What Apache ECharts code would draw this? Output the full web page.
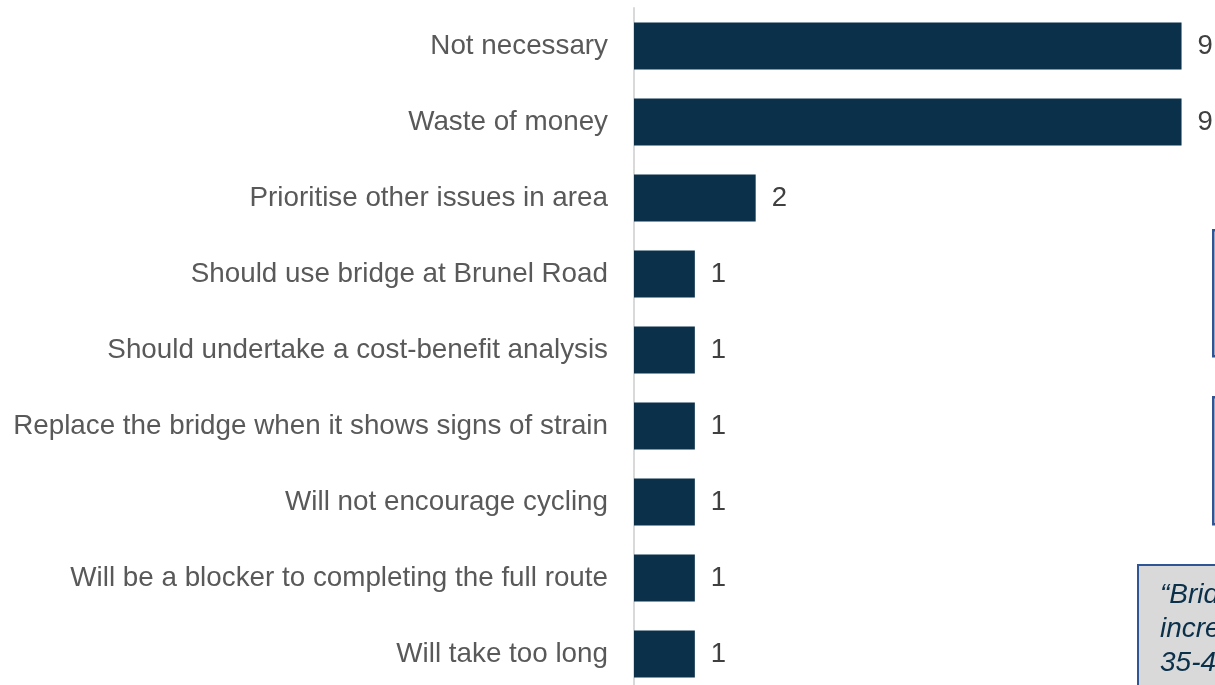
<!DOCTYPE html>
<html>
<head>
<meta charset="utf-8">
<script src="https://cdn.jsdelivr.net/npm/echarts@6/dist/echarts.min.js"></script>
<style>
  html, body { margin: 0; padding: 0; background: #ffffff; overflow: hidden; }
  /* the plot runs slightly past the bottom of the window */
  #chart { width: 1215px; height: 692px; }
</style>
</head>
<body>
<div id="chart"></div>
<script>
// Reasons given against the bridge (number of mentions)
const categories = [
  'Not necessary',
  'Waste of money',
  'Prioritise other issues in area',
  'Should use bridge at Brunel Road',
  'Should undertake a cost-benefit analysis',
  'Replace the bridge when it shows signs of strain',
  'Will not encourage cycling',
  'Will be a blocker to completing the full route',
  'Will take too long'
];
const mentions = [9, 9, 2, 1, 1, 1, 1, 1, 1];

// Quote box text (runs off the right edge of the page)
const quoteLines = ['\u201CBridge', 'increase', '35-40'];

const chart = echarts.init(document.getElementById('chart'), null, { renderer: 'canvas' });

const FONT = 'Liberation Sans, Arial, sans-serif';
const NAVY = '#0b304a';
const BORDER_BLUE = '#2f5597';

chart.setOption({
  animation: false,
  backgroundColor: '#ffffff',
  grid: { left: 634, top: 8, right: 0, bottom: 0, containLabel: false },
  xAxis: {
    type: 'value',
    min: 0,
    max: 9.55,
    show: false
  },
  yAxis: {
    type: 'category',
    data: categories,
    inverse: true,
    axisLine: { show: true, lineStyle: { color: '#d9d9d9', width: 2 } },
    axisTick: { show: false },
    axisLabel: {
      margin: 26,
      color: '#595959',
      fontSize: 27.8,
      fontFamily: FONT
    }
  },
  series: [{
    type: 'bar',
    data: mentions,
    barCategoryGap: '38%',
    itemStyle: { color: NAVY },
    label: {
      show: true,
      position: 'right',
      distance: 16,
      color: '#404040',
      fontSize: 27.5,
      fontFamily: FONT
    }
  }],
  graphic: [
    // two text panels whose left border shows at the page edge
    { type: 'rect', left: 1212, top: 229, shape: { width: 20, height: 126 },
      style: { fill: '#ffffff', stroke: BORDER_BLUE, lineWidth: 2.5 } },
    { type: 'rect', left: 1212, top: 396, shape: { width: 20, height: 127 },
      style: { fill: '#ffffff', stroke: BORDER_BLUE, lineWidth: 2.5 } },
    // quote panel
    { type: 'rect', left: 1137, top: 564, shape: { width: 120, height: 140 },
      style: { fill: '#d9d9d9', stroke: BORDER_BLUE, lineWidth: 2 } },
    { type: 'text', left: 1160, top: 578,
      style: {
        text: quoteLines.join('\n'),
        fill: NAVY,
        font: 'italic 28px ' + FONT,
        lineHeight: 34
      } }
  ]
});
</script>
</body>
</html>
